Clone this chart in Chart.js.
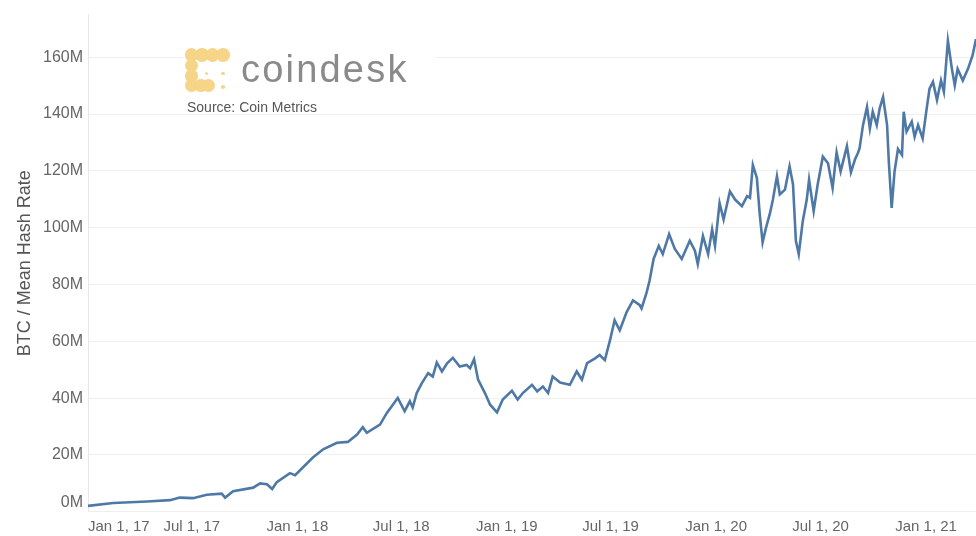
<!DOCTYPE html>
<html><head><meta charset="utf-8">
<script src="https://cdn.jsdelivr.net/npm/chart.js@4.4.1/dist/chart.umd.min.js"></script>
<style>
html,body{margin:0;padding:0;background:#fff;overflow:hidden}
#wrap{position:relative;width:976px;height:536px;background:#fff}
#c{position:absolute;left:0;top:0}
#logo{position:absolute;left:183px;top:40px;width:252px;height:56px;background:#fff}
.dot{position:absolute;border-radius:50%;background:#f6d488}
#brand{position:absolute;left:241px;top:50px;font-family:'Liberation Sans',Arial,sans-serif;font-size:38px;line-height:38px;color:#8a8a8a;letter-spacing:2.2px;white-space:nowrap}
#source{position:absolute;left:187px;top:100px;font-family:'Liberation Sans',Arial,sans-serif;font-size:14px;line-height:14px;color:#555;white-space:nowrap}
</style>
</head><body>
<div id="wrap">
<canvas id="c" width="976" height="536"></canvas>
<div id="logo"></div>
<div id="brand">coindesk</div>
<div id="source">Source: Coin Metrics</div>
</div>
<script>
// ---- data (values in millions, BTC / mean hash rate) ----
const dates = [
'2017-01-01','2017-02-14','2017-04-14','2017-05-24','2017-06-10','2017-07-03','2017-07-27','2017-08-22','2017-08-28','2017-09-11',
'2017-10-16','2017-10-28','2017-11-09','2017-11-18','2017-11-26','2017-12-19','2017-12-28','2018-01-28','2018-02-15','2018-03-11',
'2018-03-30','2018-04-15','2018-04-25','2018-05-02','2018-05-25','2018-06-06','2018-06-25','2018-07-07','2018-07-16','2018-07-21',
'2018-07-28','2018-08-06','2018-08-17','2018-08-25','2018-09-01','2018-09-10','2018-09-19','2018-09-29','2018-10-11','2018-10-23',
'2018-10-29','2018-11-05','2018-11-12','2018-11-24','2018-12-03','2018-12-15','2018-12-25','2019-01-10','2019-01-20','2019-01-29',
'2019-02-14','2019-02-23','2019-03-05','2019-03-14','2019-03-22','2019-04-04','2019-04-21','2019-05-03','2019-05-12','2019-05-21',
'2019-06-04','2019-06-12','2019-06-21','2019-06-30','2019-07-08','2019-07-17','2019-07-29','2019-08-09','2019-08-21','2019-08-24',
'2019-09-02','2019-09-07','2019-09-14','2019-09-23','2019-09-30','2019-10-11','2019-10-21','2019-11-02','2019-11-16','2019-11-25',
'2019-11-30','2019-12-09','2019-12-18','2019-12-25','2019-12-30','2020-01-07','2020-01-14','2020-01-25','2020-02-03','2020-02-15',
'2020-02-24','2020-02-29','2020-03-05','2020-03-12','2020-03-17','2020-03-22','2020-03-28','2020-04-04','2020-04-09','2020-04-16',
'2020-04-21','2020-04-30','2020-05-08','2020-05-14','2020-05-19','2020-05-24','2020-05-31','2020-06-07','2020-06-11','2020-06-19',
'2020-06-26','2020-07-05','2020-07-14','2020-07-22','2020-07-29','2020-08-05','2020-08-16','2020-08-23','2020-08-30','2020-09-04',
'2020-09-07','2020-09-13','2020-09-20','2020-09-25','2020-09-30','2020-10-07','2020-10-12','2020-10-18','2020-10-25','2020-10-28',
'2020-11-02','2020-11-07','2020-11-13','2020-11-20','2020-11-23','2020-11-28','2020-12-07','2020-12-12','2020-12-18','2020-12-26',
'2021-01-02','2021-01-07','2021-01-13','2021-01-20','2021-01-27','2021-02-01','2021-02-08','2021-02-15','2021-02-20','2021-02-25',
'2021-03-06','2021-03-15','2021-03-23','2021-03-29'
];
const values = [
2.1,3.1,3.6,4.1,5.0,4.8,6.0,6.4,5.0,7.2,
8.5,10.0,9.7,8.0,10.4,13.6,12.9,19.1,22.0,24.3,
24.6,27.2,29.8,27.8,30.7,34.8,40.1,35.4,38.9,36.7,
41.8,45.3,48.8,47.6,52.5,49.4,52.3,54.2,51.1,51.7,
50.5,53.7,46.5,41.8,37.7,35.0,39.5,42.6,39.5,41.8,
44.7,42.4,44.1,41.8,47.6,45.5,44.7,49.4,46.5,52.3,
54.0,55.2,53.4,60.4,67.4,63.9,70.3,74.4,72.7,71.6,
77.3,81.4,89.0,93.6,90.7,97.7,92.5,89.0,95.4,91.9,
87.2,97.1,90.7,99.4,93.6,108.7,102.9,112.8,109.9,107.6,
111.1,110.5,122.1,117.5,104.7,94.8,100.0,105.2,109.9,118.1,
111.7,113.4,121.6,115.2,95.4,90.7,102.3,109.9,116.9,105.8,
115.2,125.0,122.7,114.0,126.5,119.8,128.7,119.5,124.0,126.2,
127.9,136.1,142.5,134.9,140.8,136.1,141.9,146.0,136.1,123.3,
107.0,119.8,127.7,125.6,140.8,133.8,137.3,132.0,136.1,131.4,
141.9,148.9,151.3,144.9,151.8,147.8,165.8,155.9,150.1,155.9,
151.8,155.9,160.6,166.4
];
const tickDates = ['2017-01-01','2017-07-01','2018-01-01','2018-07-01','2019-01-01','2019-07-01','2020-01-01','2020-07-01','2021-01-01'];
const tickLabels = ['Jan 1, 17','Jul 1, 17','Jan 1, 18','Jul 1, 18','Jan 1, 19','Jul 1, 19','Jan 1, 20','Jul 1, 20','Jan 1, 21'];
const yTicks = [0,20,40,60,80,100,120,140,160];
const xStart = '2017-01-01';
const xEnd = '2021-03-29';
const yMax = 175;

// ---- logo icon (decorative circles) ----
const logoDots = [
  [191.5,55,13.5],[202,55,13.5],[212.5,55,13.5],[223,55,13.5],
  [191.5,65.5,13.5],[191.5,76,13.5],[191.5,85.5,13.5],[201,85.5,13.5],[208.5,85.5,13.5],
  [206.5,73.5,3.5],[223,73.5,3.5],[223,87,3.5]
];
const wrap = document.getElementById('wrap');
logoDots.forEach(([cx,cy,d])=>{
  const el=document.createElement('div'); el.className='dot';
  el.style.left=(cx-d/2)+'px'; el.style.top=(cy-d/2)+'px';
  el.style.width=d+'px'; el.style.height=d+'px';
  wrap.appendChild(el);
});

const DAY = 86400000;
function toUTC(s){ const p=s.split('-').map(Number); return Date.UTC(p[0],p[1]-1,p[2]); }
const t0 = toUTC(xStart);
const dayIdx = s => (toUTC(s)-t0)/DAY;
const pts = dates.map((d,i)=>({x:dayIdx(d), y:values[i]}));

const FONT = 'Liberation Sans, Arial, sans-serif';
new Chart(document.getElementById('c'), {
  type:'line',
  data:{datasets:[{data:pts, borderColor:'#4e79a7', borderWidth:2.6, pointRadius:0, tension:0, fill:false}]},
  options:{
    responsive:false, animation:false, devicePixelRatio:1,
    layout:{padding:{top:12,left:0,right:0,bottom:0}},
    plugins:{legend:{display:false}, tooltip:{enabled:false}},
    scales:{
      x:{type:'linear', min:0, max:dayIdx(xEnd),
        grid:{display:false, drawTicks:false}, border:{display:false},
        afterBuildTicks:s=>{ s.ticks = tickDates.map(d=>({value:dayIdx(d)})).concat([{value:dayIdx(xEnd)}]); },
        ticks:{align:'inner', autoSkip:false, maxRotation:0, padding:6, color:'#666', font:{family:FONT,size:15},
          callback:(v,i)=> i<tickLabels.length ? tickLabels[i] : ''},
        afterFit:s=>{ s.height = 23; s.paddingLeft = 0; s.paddingRight = 0; }
      },
      y:{type:'linear', min:0, max:yMax,
        afterBuildTicks:s=>{ s.ticks = yTicks.map(v=>({value:v})); },
        ticks:{padding:5, color:'#666', font:{family:FONT,size:16},
          callback:v=> v===0 ? ['0M',''] : v+'M'},
        grid:{color:'#efefef', drawTicks:false, lineWidth:1},
        border:{color:'#e8e8e8'},
        title:{display:true, text:'BTC / Mean Hash Rate', color:'#555', font:{family:FONT,size:18}, padding:{top:14,bottom:0}},
        afterFit:s=>{ s.width = 88; s.paddingLeft = 0; s.paddingRight = 0; }
      }
    }
  }
});
</script>
</body></html>
